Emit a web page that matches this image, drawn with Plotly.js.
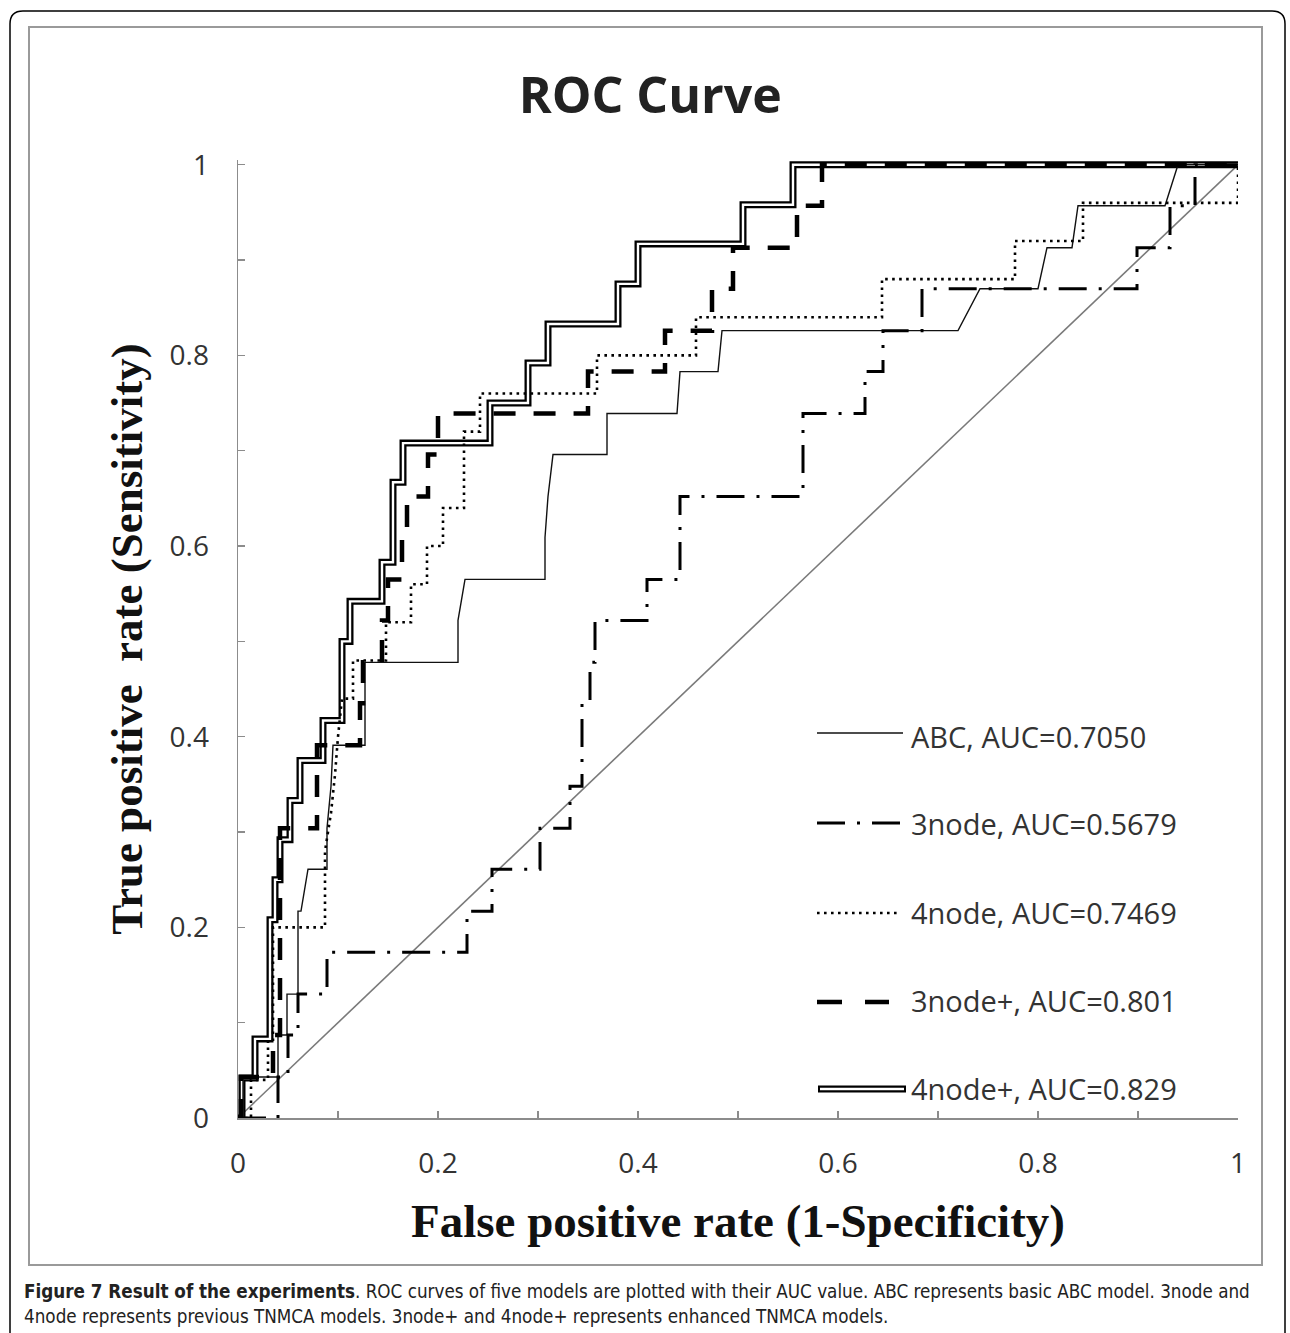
<!DOCTYPE html>
<html>
<head>
<meta charset="utf-8">
<script src="https://cdn.plot.ly/plotly-3.0.1.min.js"></script>
<style>
html,body{margin:0;padding:0;background:#fff;}
#chart{width:1290px;height:1333px;}
</style>
</head>
<body>
<div id="chart"></div>
<script>
// ---- data ----
var diagX = [0, 1];
var diagY = [0, 1];

var abcX = [0, 0.005, 0.005, 0.04, 0.04, 0.049, 0.049, 0.06, 0.06, 0.063, 0.07, 0.089, 0.089, 0.093, 0.095, 0.127, 0.127, 0.22, 0.22, 0.227, 0.307, 0.307, 0.31, 0.315, 0.369, 0.369, 0.439, 0.442, 0.48, 0.484, 0.72, 0.742, 0.80, 0.809, 0.834, 0.84, 0.927, 0.94, 1];
var abcY = [0, 0, 0.043, 0.043, 0.087, 0.087, 0.13, 0.13, 0.217, 0.217, 0.261, 0.261, 0.304, 0.348, 0.391, 0.391, 0.478, 0.478, 0.522, 0.565, 0.565, 0.609, 0.652, 0.696, 0.696, 0.739, 0.739, 0.783, 0.783, 0.826, 0.826, 0.87, 0.87, 0.913, 0.913, 0.957, 0.957, 1, 1];

var n3X = [0, 0.04, 0.04, 0.05, 0.05, 0.06, 0.06, 0.089, 0.089, 0.229, 0.229, 0.254, 0.254, 0.302, 0.302, 0.332, 0.332, 0.344, 0.344, 0.352, 0.352, 0.357, 0.357, 0.409, 0.409, 0.442, 0.442, 0.565, 0.565, 0.627, 0.627, 0.645, 0.645, 0.684, 0.684, 0.899, 0.899, 0.932, 0.932, 0.957, 0.957, 1];
var n3Y = [0, 0, 0.043, 0.043, 0.087, 0.087, 0.13, 0.13, 0.174, 0.174, 0.217, 0.217, 0.261, 0.261, 0.304, 0.304, 0.348, 0.348, 0.435, 0.435, 0.478, 0.478, 0.522, 0.522, 0.565, 0.565, 0.652, 0.652, 0.739, 0.739, 0.783, 0.783, 0.826, 0.826, 0.87, 0.87, 0.913, 0.913, 0.957, 0.957, 1, 1];

var n4X = [0, 0.013, 0.013, 0.03, 0.03, 0.035, 0.035, 0.087, 0.087, 0.093, 0.097, 0.1, 0.104, 0.115, 0.115, 0.148, 0.148, 0.173, 0.173, 0.189, 0.189, 0.205, 0.205, 0.226, 0.226, 0.242, 0.242, 0.359, 0.359, 0.458, 0.458, 0.644, 0.644, 0.777, 0.777, 0.845, 0.845, 1, 1];
var n4Y = [0, 0, 0.04, 0.04, 0.08, 0.08, 0.2, 0.2, 0.28, 0.32, 0.36, 0.4, 0.44, 0.44, 0.48, 0.48, 0.52, 0.52, 0.56, 0.56, 0.6, 0.6, 0.64, 0.64, 0.72, 0.72, 0.76, 0.76, 0.8, 0.8, 0.84, 0.84, 0.88, 0.88, 0.92, 0.92, 0.96, 0.96, 1];

var p3X = [0, 0.003, 0.003, 0.035, 0.035, 0.042, 0.042, 0.079, 0.079, 0.122, 0.122, 0.125, 0.125, 0.144, 0.144, 0.15, 0.15, 0.164, 0.164, 0.169, 0.169, 0.19, 0.19, 0.2, 0.2, 0.35, 0.35, 0.427, 0.427, 0.474, 0.474, 0.495, 0.495, 0.559, 0.559, 0.584, 0.584, 1];
var p3Y = [0, 0, 0.043, 0.043, 0.087, 0.087, 0.304, 0.304, 0.391, 0.391, 0.435, 0.435, 0.478, 0.478, 0.522, 0.522, 0.565, 0.565, 0.609, 0.609, 0.652, 0.652, 0.696, 0.696, 0.739, 0.739, 0.783, 0.783, 0.826, 0.826, 0.87, 0.87, 0.913, 0.913, 0.957, 0.957, 1, 1];

var p4X = [0, 0.004, 0.004, 0.017, 0.017, 0.032, 0.032, 0.037, 0.037, 0.042, 0.042, 0.052, 0.052, 0.062, 0.062, 0.085, 0.085, 0.104, 0.104, 0.112, 0.112, 0.144, 0.144, 0.155, 0.155, 0.165, 0.165, 0.252, 0.252, 0.29, 0.29, 0.31, 0.31, 0.38, 0.38, 0.40, 0.40, 0.505, 0.505, 0.555, 0.555, 1];
var p4Y = [0, 0, 0.042, 0.042, 0.083, 0.083, 0.208, 0.208, 0.25, 0.25, 0.292, 0.292, 0.333, 0.333, 0.375, 0.375, 0.417, 0.417, 0.5, 0.5, 0.542, 0.542, 0.583, 0.583, 0.667, 0.667, 0.708, 0.708, 0.75, 0.75, 0.792, 0.792, 0.833, 0.833, 0.875, 0.875, 0.917, 0.917, 0.958, 0.958, 1, 1];

var seriesNames = ["ABC, AUC=0.7050", "3node, AUC=0.5679", "4node, AUC=0.7469", "3node+, AUC=0.801", "4node+, AUC=0.829"];
var tickVals = [0, 0.1, 0.2, 0.3, 0.4, 0.5, 0.6, 0.7, 0.8, 0.9, 1];
var tickText = ["0", "", "0.2", "", "0.4", "", "0.6", "", "0.8", "", "1"];

var titleText = "ROC Curve";
var xTitleText = "False positive rate (1-Specificity)";
var yTitleText = "True positive  rate (Sensitivity)";
var captionLine1 = "<b>Figure 7 Result of the experiments</b>. ROC curves of five models are plotted with their AUC value. ABC represents basic ABC model. 3node and";
var captionLine2 = "4node represents previous TNMCA models. 3node+ and 4node+ represents enhanced TNMCA models.";

// ---- layout helpers (pixel -> paper) ----
var ML = 238, MR = 52, MT = 160, MB = 215, W = 1290, H = 1333;
var PW = W - ML - MR, PH = H - MT - MB;
function px(xp) { return (xp - ML) / PW; }
function py(yp) { return (H - MB - yp) / PH; }

function tr(x, y, name, line) {
  return {x: x, y: y, name: name, type: 'scatter', mode: 'lines', line: line, hoverinfo: 'skip', showlegend: false};
}

var traces = [
  tr(diagX, diagY, 'diagonal', {color: '#7a7a7a', width: 1.6}),
  tr(p4X, p4Y, seriesNames[4], {color: '#000', width: 7}),
  tr(p4X, p4Y, seriesNames[4] + ' (inner)', {color: '#fff', width: 2.4}),
  tr(abcX, abcY, seriesNames[0], {color: '#111', width: 1.4}),
  tr(n3X, n3Y, seriesNames[1], {color: '#000', width: 3, dash: '28px,12px,3px,12px'}),
  tr(n4X, n4Y, seriesNames[2], {color: '#000', width: 2.6, dash: '2.6px,4.4px'}),
  tr(p3X, p3Y, seriesNames[3], {color: '#000', width: 4.5, dash: '22px,18px'})
];

var legendY = [733, 823, 913, 1002, 1089];
var textY = [736, 823, 912, 1000, 1088];
var shapes = [];
// outer rounded frame
shapes.push({type: 'path', xref: 'paper', yref: 'paper', layer: 'below',
  path: 'M' + px(10) + ',' + py(1345) + ' L' + px(10) + ',' + py(24) + ' Q' + px(10) + ',' + py(11) + ' ' + px(23) + ',' + py(11) +
        ' L' + px(1272) + ',' + py(11) + ' Q' + px(1285) + ',' + py(11) + ' ' + px(1285) + ',' + py(24) + ' L' + px(1285) + ',' + py(1345),
  line: {color: '#000', width: 1.5}});
// inner grey chart box
shapes.push({type: 'rect', xref: 'paper', yref: 'paper', layer: 'below',
  x0: px(29), x1: px(1262), y0: py(1265), y1: py(27), line: {color: '#9a9a9a', width: 2}});
// legend samples
shapes.push({type: 'line', xref: 'paper', yref: 'paper', x0: px(817), x1: px(903), y0: py(legendY[0]), y1: py(legendY[0]), line: {color: '#111', width: 1.4}});
shapes.push({type: 'line', xref: 'paper', yref: 'paper', x0: px(817), x1: px(903), y0: py(legendY[1]), y1: py(legendY[1]), line: {color: '#000', width: 3, dash: '28px,12px,3px,12px'}});
shapes.push({type: 'line', xref: 'paper', yref: 'paper', x0: px(817), x1: px(900), y0: py(legendY[2]), y1: py(legendY[2]), line: {color: '#000', width: 2.6, dash: '2.6px,4.4px'}});
shapes.push({type: 'line', xref: 'paper', yref: 'paper', x0: px(817), x1: px(889), y0: py(legendY[3]), y1: py(legendY[3]), line: {color: '#000', width: 4.5, dash: '25px,23px'}});
shapes.push({type: 'line', xref: 'paper', yref: 'paper', x0: px(818), x1: px(906), y0: py(legendY[4]), y1: py(legendY[4]), line: {color: '#000', width: 7}});
shapes.push({type: 'line', xref: 'paper', yref: 'paper', x0: px(820), x1: px(904), y0: py(legendY[4]), y1: py(legendY[4]), line: {color: '#fff', width: 2.4}});

var annotations = [];
for (var i = 0; i < seriesNames.length; i++) {
  annotations.push({xref: 'paper', yref: 'paper', x: px(909), y: py(textY[i]), xanchor: 'left', yanchor: 'middle',
    text: seriesNames[i], showarrow: false, font: {family: 'Open Sans, Noto Sans, sans-serif', size: 29, color: '#333'}});
}
annotations.push({xref: 'paper', yref: 'paper', x: px(22), y: py(1291), xanchor: 'left', yanchor: 'middle',
  text: captionLine1, showarrow: false, font: {family: 'Liberation Sans Narrow, DejaVu Sans Condensed, sans-serif', size: 18.7, color: '#222'}});
annotations.push({xref: 'paper', yref: 'paper', x: px(22), y: py(1316), xanchor: 'left', yanchor: 'middle',
  text: captionLine2, showarrow: false, font: {family: 'Liberation Sans Narrow, DejaVu Sans Condensed, sans-serif', size: 18.7, color: '#222'}});

var axisCommon = {
  showgrid: false, zeroline: false, showline: true, linecolor: '#8c8c8c', linewidth: 1.5,
  ticks: 'inside', ticklen: 7, tickwidth: 1.2, tickcolor: '#8c8c8c',
  tickmode: 'array', tickvals: tickVals, ticktext: tickText,
  tickfont: {family: 'Open Sans, Noto Sans, sans-serif', size: 28, color: '#333'},
  fixedrange: true
};

var layout = {
  width: W, height: H,
  margin: {l: ML, r: MR, t: MT, b: MB, pad: 0},
  paper_bgcolor: '#fff', plot_bgcolor: '#fff',
  title: {text: titleText, x: 0.504, xref: 'container', xanchor: 'center', y: 1 - 95 / H, yref: 'container', yanchor: 'middle',
    font: {family: 'Open Sans, Noto Sans, sans-serif', size: 50, weight: 'bold', color: '#222'}},
  xaxis: Object.assign({}, axisCommon, {range: [0, 1], ticklabelstandoff: 20,
    title: {text: xTitleText, standoff: 24, font: {family: 'Liberation Serif, Times New Roman, serif', size: 47, weight: 'bold', color: '#111'}}}),
  yaxis: Object.assign({}, axisCommon, {range: [0, 1.005], ticklabelstandoff: 22,
    title: {text: yTitleText, standoff: 13, font: {family: 'Liberation Serif, Times New Roman, serif', size: 45, weight: 'bold', color: '#111'}}}),
  shapes: shapes,
  annotations: annotations,
  showlegend: false
};

Plotly.newPlot('chart', traces, layout, {staticPlot: true, displayModeBar: false});
</script>
</body>
</html>
